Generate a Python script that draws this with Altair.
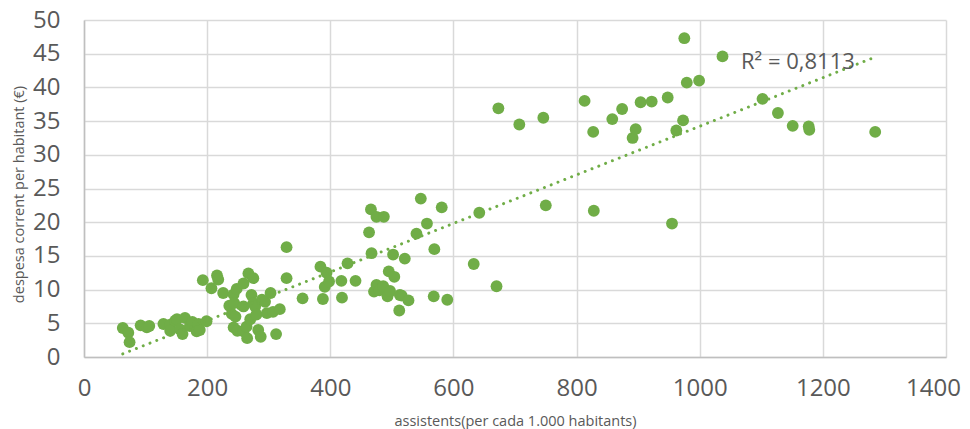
import altair as alt
import pandas as pd

# Data
assistents = [
    63, 72, 74, 92, 102, 106, 129, 140, 140, 148, 151, 156, 164, 160, 172, 176, 183, 186, 188, 193, 199,
    216, 218, 207, 226, 236, 240, 243, 244, 246, 243, 249, 248, 259, 259, 259, 264, 265, 267, 270, 272,
    275, 275, 278, 280, 283, 287, 289, 294, 297, 303, 307, 312, 318, 329, 329,
    355, 384, 388, 391, 394, 398, 418, 419, 428, 441, 463, 466, 467, 471, 475, 475, 480, 486, 487, 493,
    495, 497, 502, 504, 512, 513, 516, 521, 527, 540, 547, 557, 568, 569, 581, 590,
    633, 642, 670, 673, 707, 746, 750, 813, 827, 828, 858, 874, 891, 896, 904, 922, 948, 955, 962, 973,
    975, 979, 999, 1037, 1102, 1127, 1151, 1177, 1178, 1285,
]
despesa = [
    4.3, 3.6, 2.2, 4.7, 4.4, 4.6, 4.9, 4.8, 3.9, 5.4, 5.6, 4.1, 5.8, 3.4, 4.6, 5.2, 3.8, 4.9, 4.0, 11.4, 5.3,
    12.1, 11.5, 10.2, 9.5, 7.6, 6.4, 9.3, 8.0, 6.0, 4.4, 3.9, 10.1, 10.9, 7.5, 3.8, 4.5, 2.8, 12.4, 5.6, 9.2,
    11.7, 8.0, 7.5, 6.3, 4.0, 3.0, 8.5, 8.2, 6.5, 9.5, 6.7, 3.4, 7.1, 16.3, 11.7,
    8.7, 13.4, 8.6, 10.4, 12.5, 11.2, 11.3, 8.8, 13.9, 11.3, 18.5, 21.9, 15.4, 9.7, 20.8, 10.7, 9.9, 10.5, 20.8, 9.0,
    12.7, 9.8, 15.2, 11.9, 6.9, 9.2, 9.1, 14.6, 8.4, 18.3, 23.5, 19.8, 9.0, 16.0, 22.2, 8.5,
    13.8, 21.4, 10.5, 36.9, 34.5, 35.5, 22.5, 38.0, 33.4, 21.7, 35.3, 36.8, 32.5, 33.8, 37.8, 37.9, 38.5, 19.8, 33.6, 35.1,
    47.3, 40.7, 41.0, 44.6, 38.3, 36.2, 34.3, 34.2, 33.7, 33.4,
]
x_ticks = [0, 200, 400, 600, 800, 1000, 1200, 1400]
y_ticks = [0, 5, 10, 15, 20, 25, 30, 35, 40, 45, 50]
r2_label = "R² = 0,8113"

df = pd.DataFrame({"assistents": assistents, "despesa": despesa})

GREEN = "#70AD47"
GRAY = "#595959"
FONT = "Open Sans"
LABEL_FONT = "Liberation Sans Narrow, Arial Narrow, Open Sans"

x_scale = alt.Scale(domain=[0, 1400], nice=False)
y_scale = alt.Scale(domain=[0, 50], nice=False)

x_axis = alt.Axis(
    values=x_ticks, format="d", title="assistents(per cada 1.000 habitants)",
    labelFontSize=24, labelPadding=31, labelBaseline="middle", labelOverlap=False,
    labelFlush=False,
    labelOffset={"condition": {"test": "datum.value == 1400", "value": -13}, "value": 0},
    titleFontSize=14.5, titleY=68, titleBaseline="alphabetic",
)
y_axis = alt.Axis(
    values=y_ticks, format="d", title="despesa corrent per habitant (€)",
    labelFontSize=24, labelPadding=24, labelOverlap=False, labelFlush=False,
    titleFontSize=14.5, titleX=-65, titleY=174, titleBaseline="middle",
)

base = alt.Chart(df)

points = base.mark_circle(size=140, color=GREEN, opacity=1).encode(
    x=alt.X("assistents:Q", scale=x_scale, axis=x_axis),
    y=alt.Y("despesa:Q", scale=y_scale, axis=y_axis),
)

trend = base.transform_regression("assistents", "despesa").mark_line(
    color=GREEN, strokeWidth=3, strokeCap="round", strokeDash=[0.01, 7.3]
).encode(
    x=alt.X("assistents:Q", scale=x_scale, axis=x_axis),
    y=alt.Y("despesa:Q", scale=y_scale, axis=y_axis),
)

label = alt.Chart().mark_text(
    text=r2_label, align="left", baseline="middle", fontSize=22, font=FONT, color=GRAY
).encode(
    x=alt.XDatum(1067, scale=x_scale, axis=x_axis),
    y=alt.YDatum(43.7, scale=y_scale, axis=y_axis),
)

chart = alt.layer(points, trend, label).properties(
    width=862, height=337,
    autosize=alt.AutoSizeParams(type="none"),
    padding={"left": 76, "top": 12, "right": 16, "bottom": 72},
).configure_view(stroke=None).configure_axis(
    gridColor="#D9D9D9", gridWidth=1.5,
    domainColor="#BFBFBF", domainWidth=1.5,
    ticks=False, tickSize=0,
    labelColor=GRAY, titleColor=GRAY,
    labelFont=LABEL_FONT, titleFont=FONT, titleFontWeight="normal",
)

chart.save("out.html", embed_options={"renderer": "svg", "actions": False})
